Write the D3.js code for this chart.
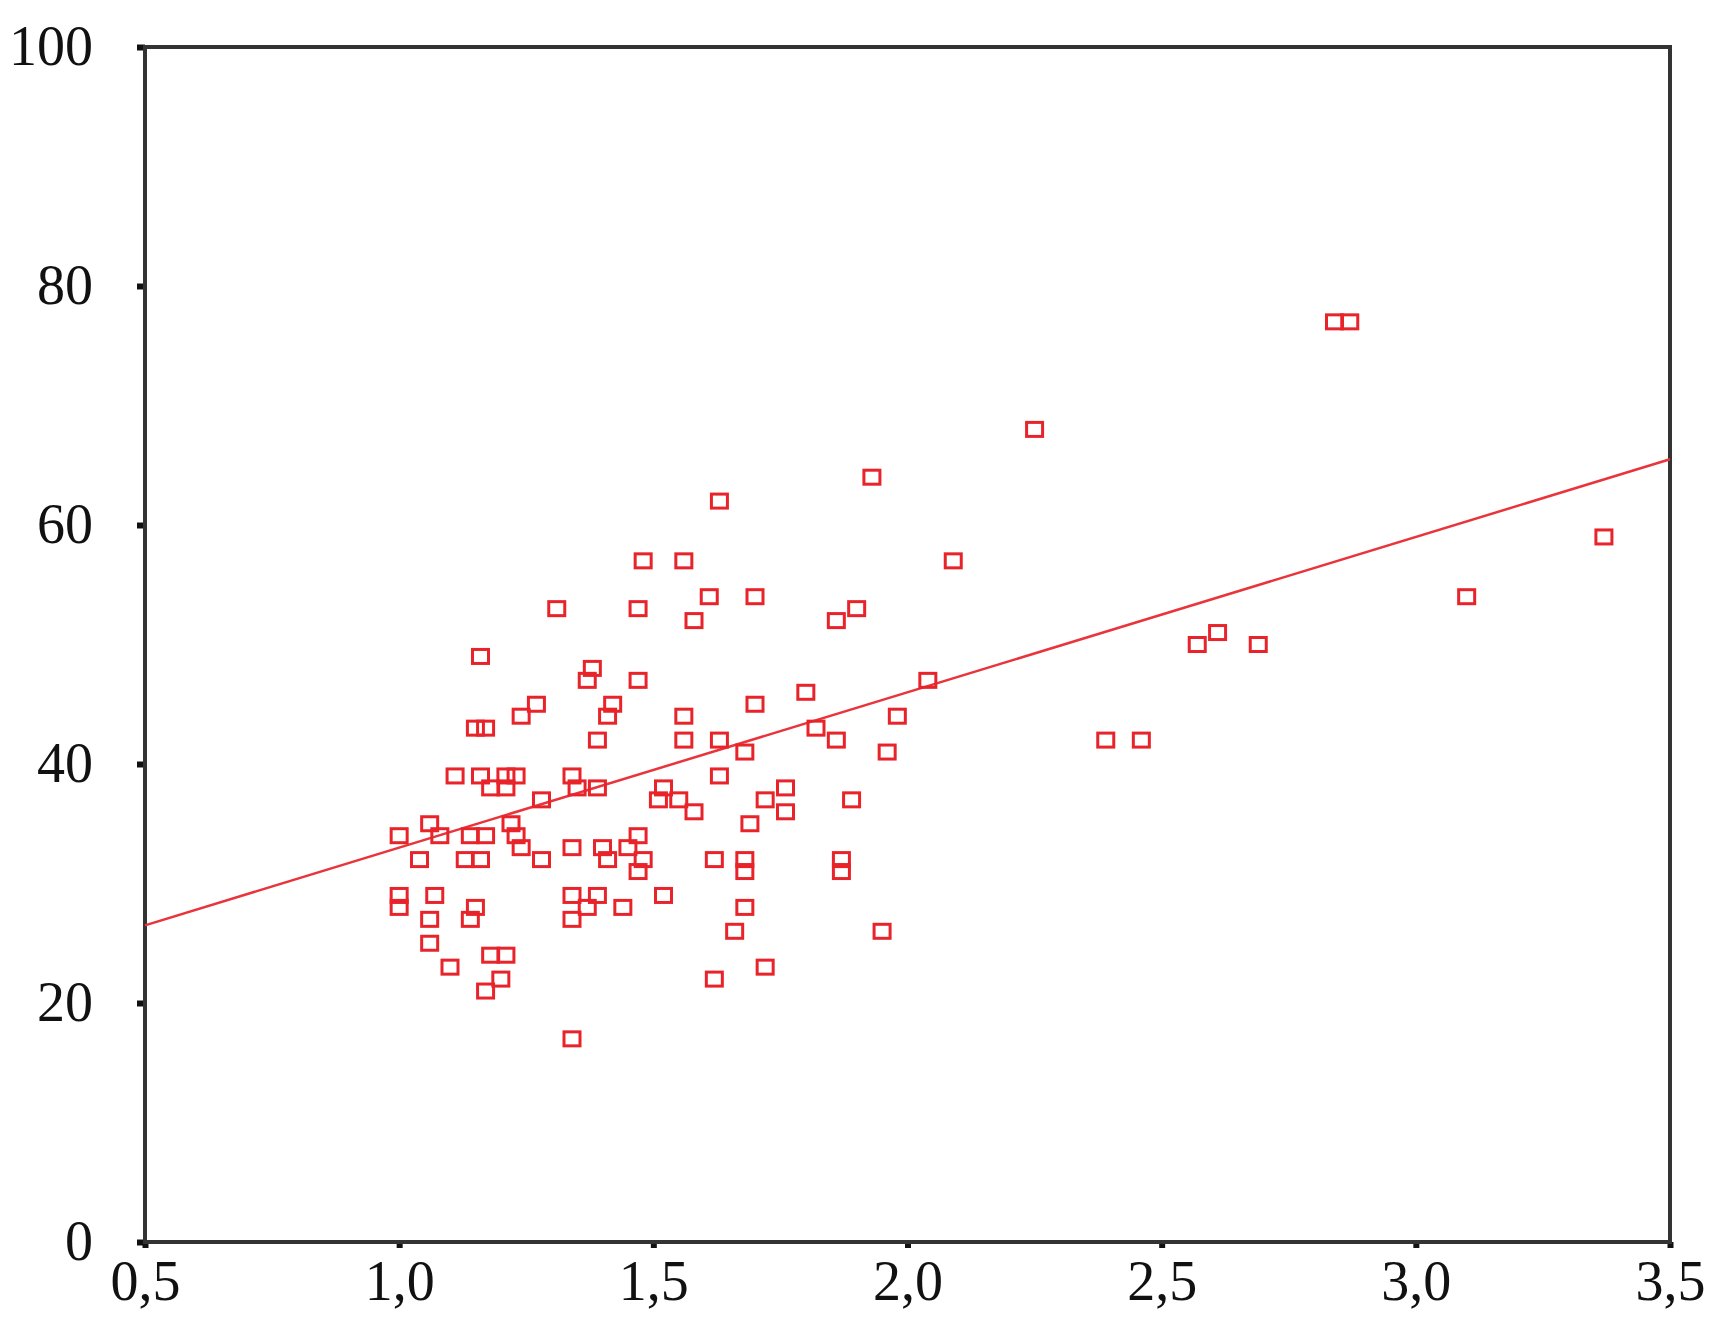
<!DOCTYPE html>
<html>
<head>
<meta charset="utf-8">
<script src="https://cdn.jsdelivr.net/npm/d3@7"></script>
<style>
  body { margin: 0; background: #fff; }
  .axis text { font-family: "Liberation Serif", "DejaVu Serif", serif; font-size: 56px; fill: #111; }
  .axis path { display: none; }
  .axis line { stroke: #111; stroke-width: 6px; }
</style>
</head>
<body>
<svg id="chart" width="1732" height="1323"></svg>
<script>
// scatter values
const xVals = [1.0,1.0,1.0,1.04,1.06,1.06,1.06,1.07,1.08,1.10,1.11,1.13,1.14,1.14,1.15,1.15,1.16,1.16,1.17,1.16,1.17,1.17,1.18,1.18,1.20,1.21,1.21,1.21,1.22,1.23,1.23,1.24,1.24,1.27,1.28,1.28,1.31,1.34,1.34,1.34,1.34,1.34,1.35,1.37,1.37,1.38,1.39,1.39,1.39,1.40,1.41,1.41,1.42,1.44,1.45,1.47,1.47,1.47,1.47,1.48,1.48,1.51,1.52,1.52,1.55,1.56,1.56,1.56,1.58,1.58,1.61,1.62,1.62,1.63,1.63,1.63,1.66,1.68,1.68,1.68,1.68,1.69,1.70,1.70,1.72,1.72,1.76,1.76,1.80,1.82,1.86,1.86,1.87,1.87,1.89,1.90,1.93,1.95,1.96,1.98,2.04,2.09,2.25,2.39,2.46,2.57,2.61,2.69,2.84,2.87,3.10,3.37];
const yVals = [34,29,28,32,35,27,25,29,34,23,39,32,34,27,28,43,49,39,43,32,34,21,38,24,22,24,38,39,35,39,34,33,44,45,32,37,53,17,27,29,33,39,38,47,28,48,38,42,29,33,32,44,45,28,33,34,53,47,31,57,32,37,38,29,37,57,44,42,36,52,54,32,22,62,39,42,26,41,32,31,28,35,54,45,23,37,38,36,46,43,52,42,32,31,37,53,64,26,41,44,47,57,68,42,42,50,51,50,77,77,54,59];
// fitted line end points
const fitX = [0.5, 3.5];
const fitY = [26.5, 65.5];
const xTicks = [0.5, 1.0, 1.5, 2.0, 2.5, 3.0, 3.5];
const yTicks = [0, 20, 40, 60, 80, 100];

const margin = { left: 145, right: 62, top: 47, bottom: 81 };
const svg = d3.select('#chart');
const W = +svg.attr('width'), H = +svg.attr('height');
const x = d3.scaleLinear().domain([0.5, 3.5]).range([margin.left, W - margin.right]);
const y = d3.scaleLinear().domain([0, 100]).range([H - margin.bottom, margin.top]);
const fmt = d => d3.format('.1f')(d).replace('.', ',');

svg.append('g')
  .attr('class', 'axis')
  .attr('transform', `translate(0,${H - margin.bottom})`)
  .call(d3.axisBottom(x).tickValues(xTicks).tickFormat(fmt).tickSize(6).tickPadding(12));

svg.append('g')
  .attr('class', 'axis')
  .attr('transform', `translate(${margin.left},0)`)
  .call(d3.axisLeft(y).tickValues(yTicks).tickSize(8).tickPadding(44));

svg.append('rect')
  .attr('x', margin.left).attr('y', margin.top)
  .attr('width', W - margin.left - margin.right)
  .attr('height', H - margin.top - margin.bottom)
  .attr('fill', 'none').attr('stroke', '#333').attr('stroke-width', 4);

svg.append('line')
  .attr('x1', x(fitX[0])).attr('y1', y(fitY[0]))
  .attr('x2', x(fitX[1])).attr('y2', y(fitY[1]))
  .attr('stroke', '#e8343a').attr('stroke-width', 2.5);

const pts = xVals.map((v, i) => ({ x: v, y: yVals[i] }));
svg.append('g').selectAll('rect')
  .data(pts)
  .enter()
  .append('rect')
  .attr('x', d => x(d.x) - 8)
  .attr('y', d => y(d.y) - 7)
  .attr('width', 16)
  .attr('height', 14)
  .attr('fill', 'none')
  .attr('stroke', '#e8232a')
  .attr('stroke-width', 3);
</script>
</body>
</html>
